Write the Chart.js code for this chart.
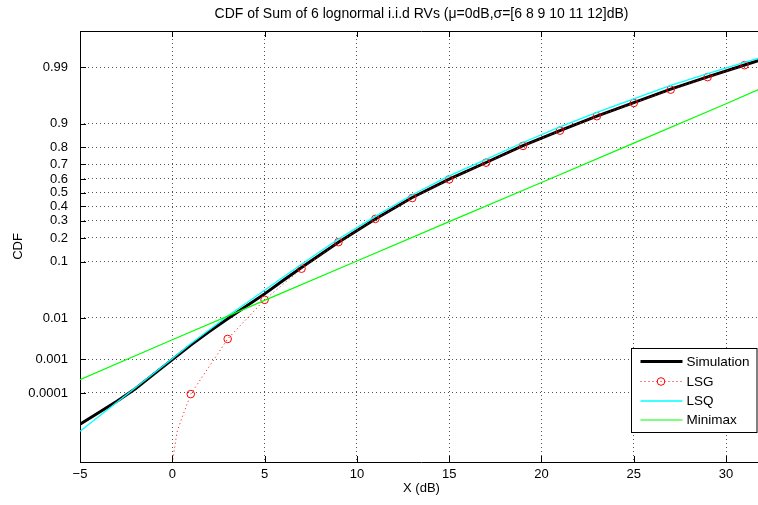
<!DOCTYPE html>
<html>
<head>
<meta charset="utf-8">
<script src="https://cdn.jsdelivr.net/npm/chart.js@4.4.1/dist/chart.umd.min.js"></script>
<style>
  html, body { margin: 0; padding: 0; background: #fff; overflow: hidden; }
  canvas { display: block; }
</style>
</head>
<body>
<canvas id="chart" width="768" height="505"></canvas>
<script>
// values (CDF, not probit)
const simX = [-5, -3, -2, -1, 0, 1, 2, 3, 4, 5, 6, 7, 9, 11, 13, 15, 17, 19, 21, 23, 25, 27, 29, 31, 32];
const simCdf = [8.5e-6, 5.4e-5, 1.36e-4, 3.76e-4, 9.7e-4, 2.33e-3, 4.94e-3, 9.64e-3, 0.0174, 0.0301, 0.0516, 0.0823,
  0.179, 0.312, 0.464, 0.599, 0.712, 0.808, 0.875, 0.922, 0.9525, 0.9726, 0.9842, 0.9911, 0.9934];

const lsgX = [0, 0.25, 0.5, 1, 3, 5, 7, 9, 11, 13, 15, 17, 19, 21, 23, 25, 27, 29, 31];
const lsgCdf = [2.5e-7, 4.3e-6, 1.33e-5, 9.2e-5, 3.3e-3, 0.0233, 0.079, 0.179, 0.313, 0.46, 0.597, 0.711, 0.807,
  0.875, 0.922, 0.952, 0.972, 0.984, 0.991];

const lsqX = [-5, -3, -1, 0, 1, 3, 5, 7, 9, 11, 13, 15, 17, 19, 21, 23, 25, 27, 29, 31, 32];
const lsqCdf = [4.7e-6, 5.0e-5, 4.0e-4, 1.03e-3, 2.5e-3, 0.011, 0.0351, 0.0918, 0.195, 0.330, 0.484, 0.622, 0.732,
  0.824, 0.889, 0.932, 0.959, 0.9767, 0.9864, 0.9922, 0.9941];

const minimaxX = [-5, 0, 5, 10, 15, 20, 25, 30, 32];
const minimaxCdf = [2.6e-4, 3.17e-3, 0.0228, 0.102, 0.295, 0.575, 0.821, 0.9505, 0.9744];

const xTicks = [-5, 0, 5, 10, 15, 20, 25, 30];
const yTickCdf = [0.0001, 0.001, 0.01, 0.1, 0.2, 0.3, 0.4, 0.5, 0.6, 0.7, 0.8, 0.9, 0.99];
const yTickLabels = ['0.0001', '0.001', '0.01', '0.1', '0.2', '0.3', '0.4', '0.5', '0.6', '0.7', '0.8', '0.9', '0.99'];

const FONT = 'Liberation Sans, Arial, Helvetica, sans-serif';

// inverse normal CDF (Acklam) -> y axis is linear in probit units
function probit(p) {
  const a = [-39.69683028665376, 220.9460984245205, -275.9285104469687, 138.3577518672690, -30.66479806614716, 2.506628277459239];
  const b = [-54.47609879822406, 161.5858368580409, -155.6989798598866, 66.80131188771972, -13.28068155288572];
  const c = [-0.007784894002430293, -0.3223964580411365, -2.400758277161838, -2.549732539343734, 4.374664141464968, 2.938163982698783];
  const d = [0.007784695709041462, 0.3224671290700398, 2.445134137142996, 3.754408661907416];
  const pl = 0.02425;
  let q, r;
  if (p < pl) {
    q = Math.sqrt(-2 * Math.log(p));
    return (((((c[0] * q + c[1]) * q + c[2]) * q + c[3]) * q + c[4]) * q + c[5]) /
      ((((d[0] * q + d[1]) * q + d[2]) * q + d[3]) * q + 1);
  }
  if (p > 1 - pl) {
    q = Math.sqrt(-2 * Math.log(1 - p));
    return -(((((c[0] * q + c[1]) * q + c[2]) * q + c[3]) * q + c[4]) * q + c[5]) /
      ((((d[0] * q + d[1]) * q + d[2]) * q + d[3]) * q + 1);
  }
  q = p - 0.5;
  r = q * q;
  return (((((a[0] * r + a[1]) * r + a[2]) * r + a[3]) * r + a[4]) * r + a[5]) * q /
    (((((b[0] * r + b[1]) * r + b[2]) * r + b[3]) * r + b[4]) * r + 1);
}

function toPoints(xs, ps) {
  return xs.map((x, i) => ({ x: x, y: probit(ps[i]) }));
}

// axes box with inward ticks, like the matlab figure
const framePlugin = {
  id: 'frame',
  beforeDatasetsDraw(chart) {
    const { ctx, chartArea: a, scales } = chart;
    ctx.save();
    ctx.strokeStyle = '#000';
    ctx.lineWidth = 1;
    ctx.beginPath();
    ctx.moveTo(a.left + 0.5, a.top + 0.5);
    ctx.lineTo(a.left + 0.5, a.bottom + 0.5);
    ctx.moveTo(a.left, a.bottom + 0.5);
    ctx.lineTo(a.right, a.bottom + 0.5);
    ctx.moveTo(a.left, a.top + 0.5);
    ctx.lineTo(a.right, a.top + 0.5);
    xTicks.forEach(v => {
      const px = Math.round(scales.x.getPixelForValue(v)) + 0.5;
      ctx.moveTo(px, a.bottom);
      ctx.lineTo(px, a.bottom - 6);
      ctx.moveTo(px, a.top);
      ctx.lineTo(px, a.top + 6);
    });
    yTickCdf.forEach(p => {
      const py = Math.round(scales.y.getPixelForValue(probit(p))) + 0.5;
      ctx.moveTo(a.left, py);
      ctx.lineTo(a.left + 6, py);
    });
    ctx.stroke();
    ctx.restore();
  }
};

const legendPlugin = {
  id: 'boxLegend',
  afterDraw(chart) {
    const { ctx } = chart;
    const left = 631.5, top = 348.5, w = 125.5, h = 84;
    const rows = [13, 33, 52.5, 71.5];
    ctx.save();
    ctx.fillStyle = '#fff';
    ctx.fillRect(left, top, w, h);
    ctx.strokeStyle = '#000';
    ctx.lineWidth = 1;
    ctx.strokeRect(left, top, w, h);
    ctx.font = '13.5px ' + FONT;
    ctx.textBaseline = 'middle';
    chart.data.datasets.forEach((ds, i) => {
      const y = top + rows[i];
      ctx.beginPath();
      ctx.strokeStyle = ds.borderColor;
      ctx.lineWidth = ds.borderWidth;
      ctx.setLineDash(ds.borderDash || []);
      ctx.moveTo(left + 9, y);
      ctx.lineTo(left + 51, y);
      ctx.stroke();
      ctx.setLineDash([]);
      if (ds.legendMarker) {
        ctx.beginPath();
        ctx.lineWidth = 1;
        ctx.arc(left + 29.5, y, 3.8, 0, Math.PI * 2);
        ctx.stroke();
      }
      ctx.fillStyle = '#000';
      ctx.fillText(ds.label, left + 55, y + 0.5);
    });
    ctx.restore();
  }
};

const tickFont = { family: FONT, size: 13 };

new Chart(document.getElementById('chart'), {
  type: 'line',
  data: {
    datasets: [
      {
        label: 'Simulation',
        data: toPoints(simX, simCdf),
        borderColor: '#000000',
        borderWidth: 3,
        pointRadius: 0,
        order: 4
      },
      {
        label: 'LSG',
        data: toPoints(lsgX, lsgCdf),
        borderColor: '#ff0000',
        borderWidth: 1,
        borderDash: [1, 3],
        pointStyle: 'circle',
        pointRadius: ctx => (Number.isInteger(ctx.raw.x) && Math.abs(ctx.raw.x % 2) === 1 ? 3.8 : 0),
        pointBorderColor: '#ff0000',
        pointBackgroundColor: 'rgba(0,0,0,0)',
        pointBorderWidth: 1,
        legendMarker: true,
        order: 3
      },
      {
        label: 'LSQ',
        data: toPoints(lsqX, lsqCdf),
        borderColor: '#00ffff',
        borderWidth: 1.3,
        pointRadius: 0,
        order: 2
      },
      {
        label: 'Minimax',
        data: toPoints(minimaxX, minimaxCdf),
        borderColor: '#00ff00',
        borderWidth: 1.2,
        pointRadius: 0,
        order: 1
      }
    ]
  },
  options: {
    responsive: false,
    animation: false,
    events: [],
    layout: { padding: 0 },
    elements: { line: { tension: 0 } },
    plugins: {
      legend: { display: false },
      tooltip: { enabled: false },
      title: {
        display: true,
        text: 'CDF of Sum of 6 lognormal i.i.d RVs (\u03bc=0dB,\u03c3=[6 8 9 10 11 12]dB)',
        fullSize: false,
        color: '#000',
        font: { family: FONT, size: 14, weight: 'normal' },
        padding: { top: 5.5, bottom: 8.7 }
      }
    },
    scales: {
      x: {
        type: 'linear',
        min: -5,
        max: 32,
        afterFit: s => { s.height = 43; },
        afterBuildTicks: s => { s.ticks = xTicks.map(v => ({ value: v })); },
        ticks: {
          color: '#000',
          font: tickFont,
          padding: 5,
          maxRotation: 0,
          autoSkip: false,
          callback: v => (v < 0 ? '\u2212' + Math.abs(v) : String(v))
        },
        grid: { color: '#555', lineWidth: 1, drawTicks: false },
        border: { display: false, dash: [1, 3] },
        title: {
          display: true,
          text: 'X (dB)',
          color: '#000',
          font: { family: FONT, size: 13 },
          padding: { top: 0, bottom: 9 }
        }
      },
      y: {
        type: 'linear',
        min: -5,
        max: 3,
        afterFit: s => { s.width = 80; },
        afterBuildTicks: s => { s.ticks = yTickCdf.map(p => ({ value: probit(p) })); },
        ticks: {
          color: '#000',
          font: tickFont,
          padding: 12,
          autoSkip: false,
          callback: (v, i) => yTickLabels[i]
        },
        grid: { color: '#555', lineWidth: 1, drawTicks: false },
        border: { display: false, dash: [1, 3] },
        title: {
          display: true,
          text: 'CDF',
          color: '#000',
          font: { family: FONT, size: 13 },
          padding: { top: 11, bottom: 0 }
        }
      }
    }
  },
  plugins: [framePlugin, legendPlugin]
});
</script>
</body>
</html>
